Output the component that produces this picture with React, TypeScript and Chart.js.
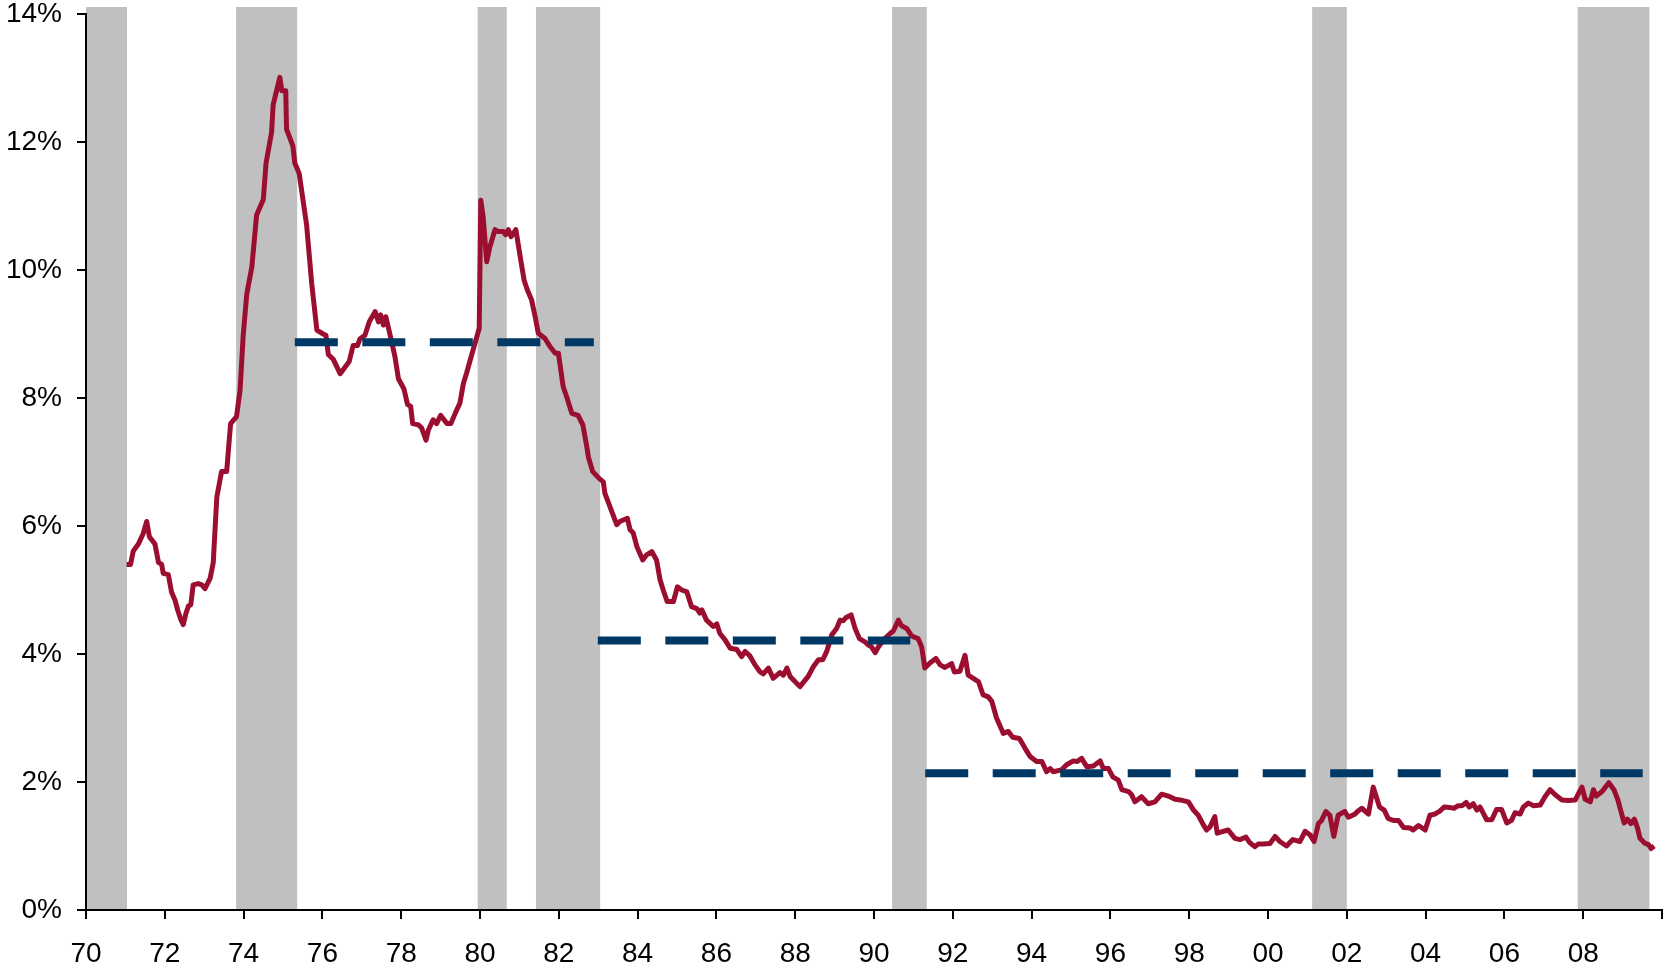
import { useEffect, useRef } from 'react';
import { Chart, registerables } from 'chart.js';

Chart.register(...registerables);

// Monthly-ish observations: decimal year and value (%)
const obsYears = [
  1971.03, 1971.13, 1971.20, 1971.33, 1971.45, 1971.54, 1971.61, 1971.75, 1971.84, 1971.92,
  1971.96, 1972.09, 1972.17, 1972.26, 1972.33, 1972.40, 1972.47, 1972.53, 1972.60, 1972.66,
  1972.72, 1972.85, 1972.94, 1973.02, 1973.15, 1973.23, 1973.32, 1973.44, 1973.57, 1973.67,
  1973.82, 1973.91, 1973.99, 1974.08, 1974.21, 1974.33, 1974.50, 1974.57, 1974.71, 1974.75,
  1974.92, 1974.97, 1975.07, 1975.09, 1975.25, 1975.30, 1975.41, 1975.60, 1975.73, 1975.86,
  1976.02, 1976.09, 1976.15, 1976.28, 1976.45, 1976.62, 1976.68, 1976.78, 1976.89, 1976.95,
  1977.08, 1977.19, 1977.34, 1977.42, 1977.48, 1977.55, 1977.61, 1977.72, 1977.84, 1977.93,
  1978.07, 1978.16, 1978.24, 1978.29, 1978.44, 1978.52, 1978.63, 1978.69, 1978.81, 1978.90,
  1979.00, 1979.16, 1979.26, 1979.37, 1979.49, 1979.58, 1979.66, 1979.75, 1979.87, 1979.98,
  1980.02, 1980.08, 1980.17, 1980.25, 1980.38, 1980.46, 1980.59, 1980.65, 1980.72, 1980.79,
  1980.91, 1981.02, 1981.12, 1981.20, 1981.31, 1981.40, 1981.48, 1981.65, 1981.78, 1981.91,
  1981.99, 1982.11, 1982.20, 1982.33, 1982.49, 1982.61, 1982.71, 1982.75, 1982.86, 1983.03,
  1983.13, 1983.17, 1983.30, 1983.47, 1983.55, 1983.74, 1983.81, 1983.89, 1983.98, 1984.13,
  1984.23, 1984.36, 1984.48, 1984.57, 1984.65, 1984.75, 1984.91, 1985.01, 1985.12, 1985.25,
  1985.37, 1985.50, 1985.58, 1985.63, 1985.75, 1985.92, 1986.01, 1986.09, 1986.22, 1986.35,
  1986.52, 1986.64, 1986.73, 1986.85, 1986.98, 1987.11, 1987.19, 1987.32, 1987.44, 1987.61,
  1987.70, 1987.79, 1987.87, 1988.12, 1988.33, 1988.46, 1988.59, 1988.70, 1988.80, 1988.93,
  1989.05, 1989.14, 1989.22, 1989.29, 1989.42, 1989.52, 1989.63, 1989.77, 1989.86, 1989.94,
  1990.03, 1990.11, 1990.24, 1990.41, 1990.49, 1990.62, 1990.70, 1990.83, 1990.96, 1991.12,
  1991.21, 1991.29, 1991.42, 1991.57, 1991.68, 1991.80, 1991.97, 1992.04, 1992.18, 1992.31,
  1992.39, 1992.52, 1992.65, 1992.77, 1992.90, 1992.99, 1993.11, 1993.28, 1993.41, 1993.52,
  1993.69, 1993.83, 1993.96, 1994.13, 1994.26, 1994.38, 1994.47, 1994.55, 1994.76, 1994.89,
  1995.06, 1995.16, 1995.27, 1995.40, 1995.57, 1995.74, 1995.82, 1995.95, 1996.06, 1996.20,
  1996.29, 1996.46, 1996.54, 1996.62, 1996.79, 1996.96, 1997.13, 1997.30, 1997.47, 1997.64,
  1997.77, 1997.98, 1998.11, 1998.23, 1998.36, 1998.44, 1998.53, 1998.65, 1998.71, 1998.82,
  1998.99, 1999.16, 1999.29, 1999.44, 1999.54, 1999.67, 1999.75, 1999.88, 2000.05, 2000.18,
  2000.30, 2000.47, 2000.63, 2000.81, 2000.94, 2001.07, 2001.17, 2001.28, 2001.36, 2001.47,
  2001.57, 2001.67, 2001.78, 2001.95, 2002.04, 2002.21, 2002.27, 2002.38, 2002.55, 2002.67,
  2002.83, 2002.95, 2003.05, 2003.18, 2003.31, 2003.44, 2003.61, 2003.68, 2003.82, 2003.99,
  2004.11, 2004.24, 2004.37, 2004.47, 2004.62, 2004.72, 2004.83, 2004.92, 2005.03, 2005.11,
  2005.21, 2005.30, 2005.38, 2005.55, 2005.68, 2005.80, 2005.93, 2006.06, 2006.18, 2006.27,
  2006.40, 2006.48, 2006.61, 2006.74, 2006.91, 2007.03, 2007.16, 2007.29, 2007.46, 2007.63,
  2007.80, 2007.88, 2007.97, 2008.05, 2008.18, 2008.26, 2008.33, 2008.48, 2008.65, 2008.78,
  2008.88, 2008.95, 2009.04, 2009.12, 2009.21, 2009.30, 2009.38, 2009.44, 2009.57, 2009.66,
  2009.72, 2009.80,
];

const obsValues = [
  5.40, 5.40, 5.61, 5.72, 5.88, 6.07, 5.83, 5.72, 5.43, 5.40,
  5.26, 5.24, 4.97, 4.84, 4.68, 4.55, 4.46, 4.62, 4.75, 4.77,
  5.08, 5.10, 5.08, 5.02, 5.18, 5.43, 6.45, 6.85, 6.85, 7.60,
  7.71, 8.12, 8.98, 9.62, 10.05, 10.86, 11.10, 11.67, 12.15, 12.58,
  13.01, 12.80, 12.80, 12.20, 11.94, 11.67, 11.51, 10.70, 9.78, 9.06,
  9.00, 8.98, 8.68, 8.60, 8.38, 8.52, 8.57, 8.82, 8.82, 8.92,
  8.98, 9.19, 9.35, 9.19, 9.30, 9.14, 9.27, 8.98, 8.65, 8.30,
  8.14, 7.90, 7.87, 7.60, 7.58, 7.53, 7.34, 7.50, 7.66, 7.60,
  7.73, 7.60, 7.60, 7.76, 7.92, 8.23, 8.39, 8.59, 8.85, 9.09,
  11.09, 10.83, 10.13, 10.36, 10.63, 10.60, 10.60, 10.55, 10.63, 10.52,
  10.63, 10.21, 9.84, 9.69, 9.53, 9.27, 9.01, 8.93, 8.80, 8.70,
  8.70, 8.18, 8.02, 7.76, 7.73, 7.58, 7.24, 7.08, 6.85, 6.74,
  6.69, 6.51, 6.30, 6.02, 6.07, 6.12, 5.94, 5.89, 5.68, 5.47,
  5.55, 5.60, 5.47, 5.16, 5.00, 4.82, 4.82, 5.05, 5.00, 4.97,
  4.74, 4.71, 4.64, 4.69, 4.53, 4.43, 4.47, 4.32, 4.22, 4.09,
  4.07, 3.96, 4.04, 3.97, 3.83, 3.72, 3.69, 3.78, 3.62, 3.71,
  3.67, 3.78, 3.65, 3.49, 3.65, 3.80, 3.91, 3.91, 4.04, 4.30,
  4.40, 4.53, 4.52, 4.57, 4.61, 4.40, 4.24, 4.19, 4.14, 4.11,
  4.02, 4.11, 4.22, 4.32, 4.36, 4.53, 4.44, 4.40, 4.28, 4.24,
  4.11, 3.78, 3.86, 3.93, 3.83, 3.79, 3.85, 3.72, 3.73, 3.98,
  3.67, 3.62, 3.57, 3.36, 3.33, 3.26, 3.00, 2.76, 2.79, 2.70,
  2.68, 2.53, 2.40, 2.32, 2.32, 2.16, 2.21, 2.16, 2.19, 2.27,
  2.33, 2.32, 2.37, 2.24, 2.25, 2.33, 2.21, 2.21, 2.08, 2.03,
  1.88, 1.85, 1.80, 1.69, 1.77, 1.66, 1.69, 1.81, 1.78, 1.73,
  1.72, 1.69, 1.56, 1.48, 1.33, 1.25, 1.30, 1.46, 1.20, 1.22,
  1.25, 1.12, 1.10, 1.14, 1.05, 0.99, 1.03, 1.03, 1.04, 1.15,
  1.07, 1.00, 1.10, 1.07, 1.23, 1.17, 1.07, 1.35, 1.40, 1.54,
  1.48, 1.15, 1.48, 1.54, 1.45, 1.50, 1.54, 1.59, 1.50, 1.92,
  1.61, 1.56, 1.43, 1.40, 1.40, 1.29, 1.28, 1.25, 1.32, 1.25,
  1.48, 1.50, 1.55, 1.61, 1.60, 1.59, 1.63, 1.63, 1.68, 1.61,
  1.66, 1.56, 1.61, 1.41, 1.41, 1.57, 1.57, 1.36, 1.40, 1.52,
  1.50, 1.61, 1.67, 1.63, 1.64, 1.77, 1.88, 1.80, 1.72, 1.71,
  1.72, 1.82, 1.92, 1.73, 1.69, 1.88, 1.78, 1.85, 1.99, 1.88,
  1.72, 1.56, 1.36, 1.42, 1.35, 1.42, 1.28, 1.12, 1.04, 1.02,
  0.96, 1.00,
];

// Recession periods (decimal years)
const recessionStarts = [1970.0, 1973.81, 1979.94, 1981.42, 1990.46, 2001.12, 2007.86];
const recessionEnds = [1971.04, 1975.36, 1980.68, 1983.05, 1991.34, 2002.0, 2009.68];

// Regime averages (dashed lines)
const avgStarts = [1975.3, 1982.99, 1991.3];
const avgEnds = [1982.89, 1990.92, 2009.51];
const avgValues = [8.87, 4.21, 2.135];

// Axis ticks
const xTickYears = [1970, 1972, 1974, 1976, 1978, 1980, 1982, 1984, 1986, 1988, 1990,
  1992, 1994, 1996, 1998, 2000, 2002, 2004, 2006, 2008, 2010];
const xTickLabels = ['70', '72', '74', '76', '78', '80', '82', '84', '86', '88', '90',
  '92', '94', '96', '98', '00', '02', '04', '06', '08', ''];
const yTickValues = [0, 2, 4, 6, 8, 10, 12, 14];
const yTickLabels = ['0%', '2%', '4%', '6%', '8%', '10%', '12%', '14%'];

const RED = '#9B0E2F';
const NAVY = '#003865';
const SHADE = '#C0C0C0';
const FONT = '"Liberation Sans", Arial, Helvetica, sans-serif';

export default function App() {
  const ref = useRef<HTMLCanvasElement>(null);

  useEffect(() => {
    const prevMargin = document.body.style.margin;
    document.body.style.margin = '0';
    const canvas = ref.current;
    if (!canvas) return;

    const n = Math.min(obsYears.length, obsValues.length);
    const lineData: { x: number; y: number }[] = [];
    for (let i = 0; i < n; i++) lineData.push({ x: obsYears[i], y: obsValues[i] });

    const avgDatasets = avgValues.map((v, i) => ({
      type: 'line' as const,
      data: [
        { x: avgStarts[i], y: v },
        { x: avgEnds[i], y: v },
      ],
      borderColor: NAVY,
      borderWidth: 8,
      borderDash: [43, 24.5],
      borderCapStyle: 'butt' as const,
      pointRadius: 0,
      fill: false,
      order: 1,
    }));

    const shadePlugin = {
      id: 'recessionShade',
      beforeDraw(chart: any) {
        const { ctx, chartArea, scales } = chart;
        const xs = scales.x;
        ctx.save();
        ctx.fillStyle = SHADE;
        const top = chartArea.top - 7;
        for (let i = 0; i < recessionStarts.length; i++) {
          const x0 = xs.getPixelForValue(recessionStarts[i]);
          const x1 = xs.getPixelForValue(recessionEnds[i]);
          ctx.fillRect(x0, top, x1 - x0, chartArea.bottom - top);
        }
        ctx.restore();
      },
    };

    const chart = new Chart(canvas, {
      type: 'line',
      data: {
        datasets: [
          {
            data: lineData,
            borderColor: RED,
            borderWidth: 5,
            borderJoinStyle: 'round',
            pointRadius: 0,
            tension: 0,
            fill: false,
            order: 2,
          } as any,
          ...avgDatasets,
        ],
      },
      options: {
        responsive: false,
        animation: false,
        devicePixelRatio: 1,
        layout: { padding: { top: 14, right: 1, left: 0, bottom: 0 } },
        plugins: { legend: { display: false }, tooltip: { enabled: false } },
        scales: {
          x: {
            type: 'linear',
            min: 1970,
            max: 2010,
            afterBuildTicks: (s: any) => {
              s.ticks = xTickYears.map((v) => ({ value: v }));
            },
            afterFit: (s: any) => {
              s.height = 58;
              s.paddingLeft = 0;
              s.paddingRight = 0;
            },
            ticks: {
              autoSkip: false,
              maxRotation: 0,
              minRotation: 0,
              padding: 18,
              color: '#000',
              font: { family: FONT, size: 28 },
              callback: (_v: any, i: number) => xTickLabels[i] ?? '',
            },
            grid: {
              display: true,
              drawOnChartArea: false,
              drawTicks: true,
              tickLength: 9,
              color: '#000',
              lineWidth: 2,
            },
            border: { display: true, color: '#000', width: 2 },
          },
          y: {
            type: 'linear',
            min: 0,
            max: 14,
            afterBuildTicks: (s: any) => {
              s.ticks = yTickValues.map((v) => ({ value: v }));
            },
            afterFit: (s: any) => {
              s.width = 86;
              s.paddingTop = 0;
              s.paddingBottom = 0;
            },
            ticks: {
              padding: 15,
              color: '#000',
              font: { family: FONT, size: 28 },
              callback: (_v: any, i: number) => yTickLabels[i] ?? '',
            },
            grid: {
              display: true,
              drawOnChartArea: false,
              drawTicks: true,
              tickLength: 9,
              color: '#000',
              lineWidth: 2,
            },
            border: { display: true, color: '#000', width: 2 },
          },
        },
      } as any,
      plugins: [shadePlugin],
    });

    return () => {
      chart.destroy();
      document.body.style.margin = prevMargin;
    };
  }, []);

  return (
    <div style={{ position: 'fixed', left: 0, top: 0, width: 1663, height: 968, background: '#fff' }}>
      <canvas ref={ref} width={1663} height={968} style={{ display: 'block', width: 1663, height: 968 }} />
    </div>
  );
}
